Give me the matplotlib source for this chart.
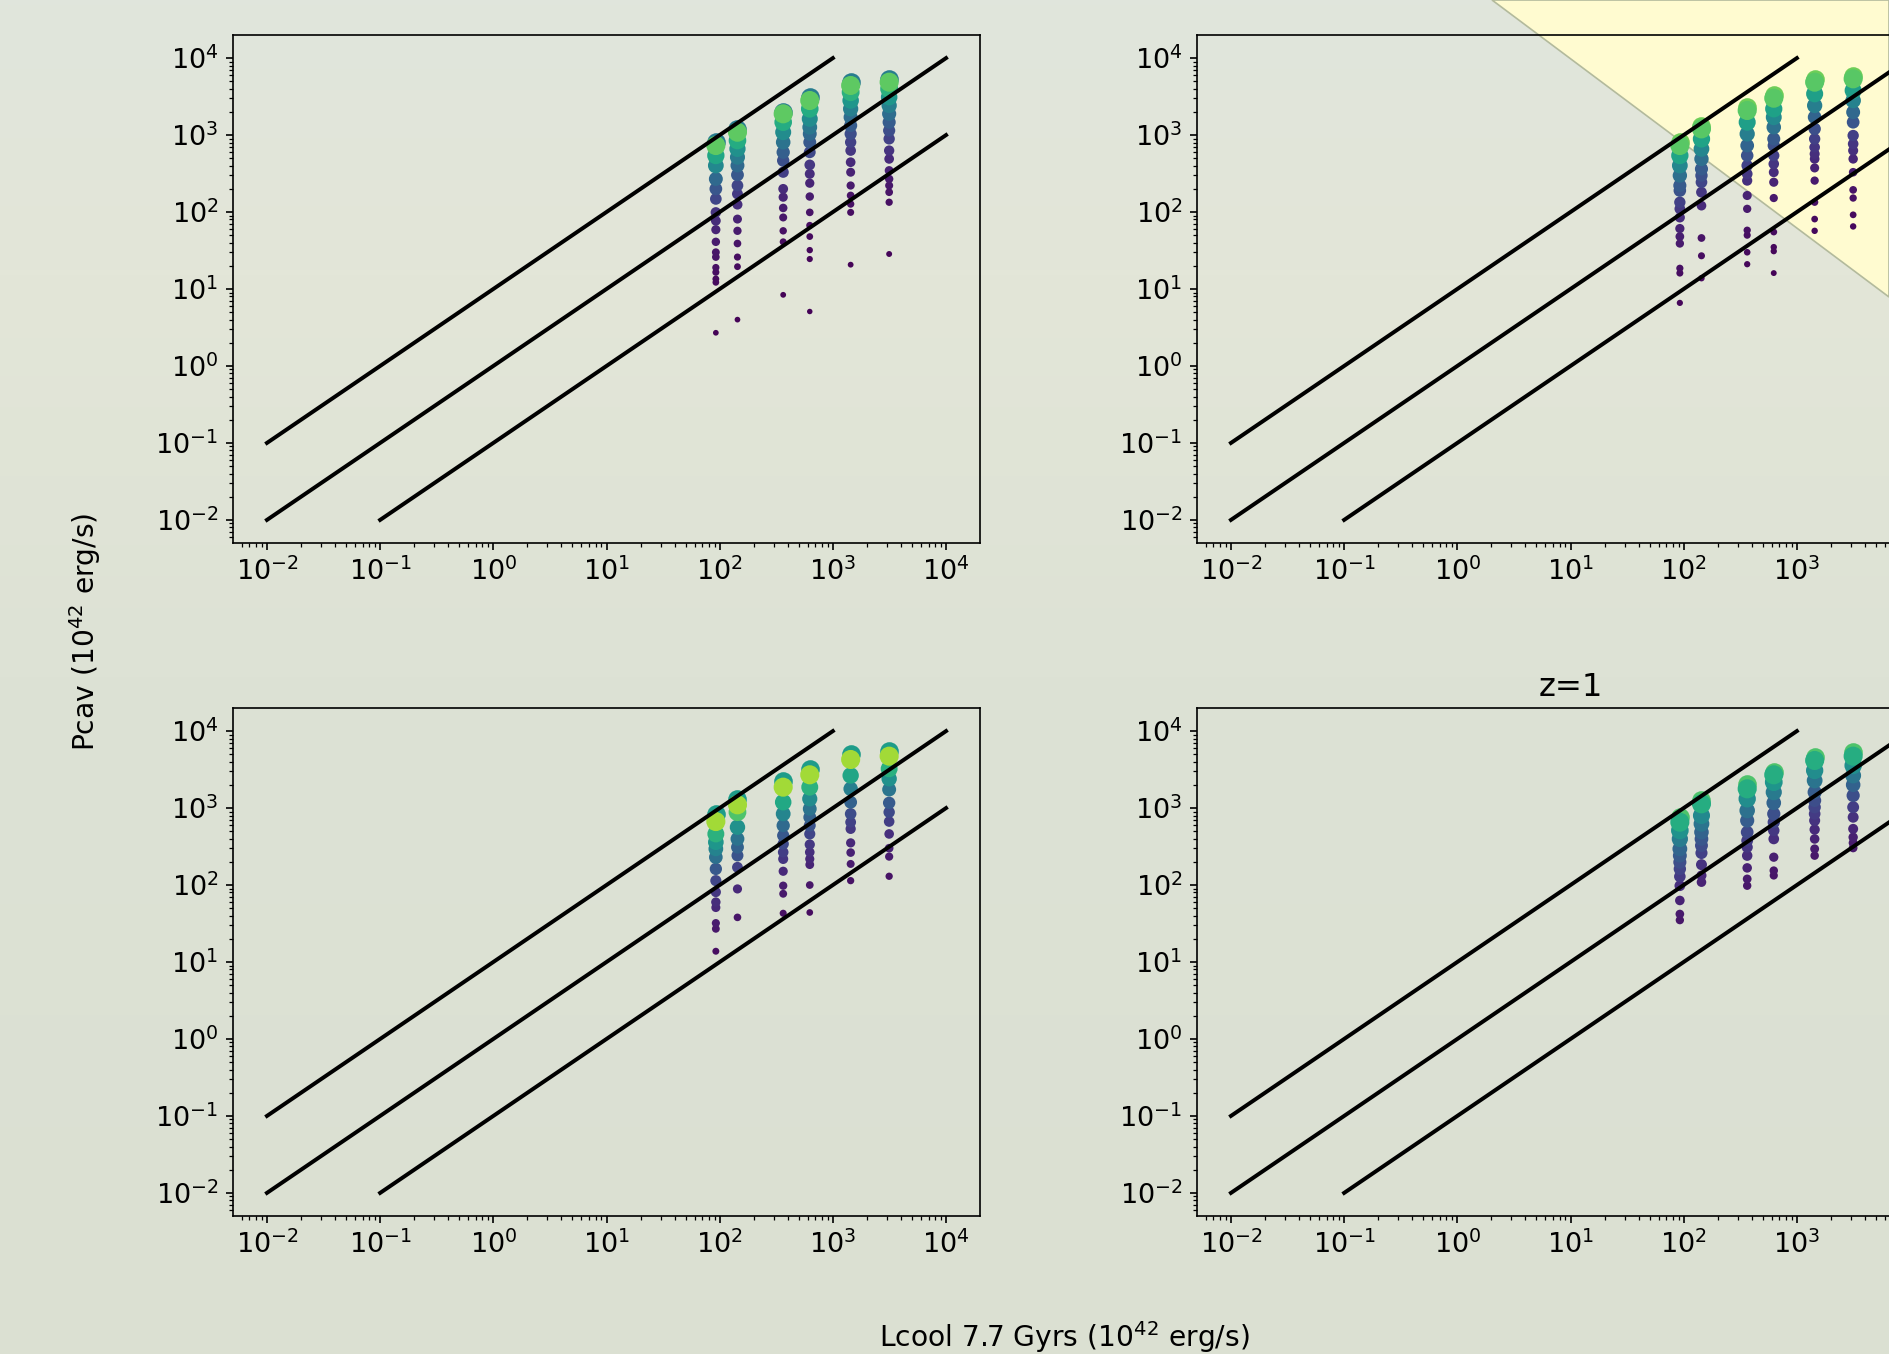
import numpy as np
import matplotlib
matplotlib.use("Agg")
import matplotlib.pyplot as plt
from matplotlib.patches import Polygon
from matplotlib.colors import LinearSegmentedColormap

# ---------------- data ----------------
lcool = [92.5, 143.6, 364, 625, 1436, 3143]   # Lcool (1e42 erg/s), one column per cluster

# Pcav values per column (first entry = top "cap" point)
pcav_tl = [
    [809, 731, 542, 402, 269, 200, 148, 99, 77, 59, 41, 30, 26, 19, 16.5, 13.5, 12.2, 2.7],
    [1200, 1089, 849, 662, 516, 402, 304, 221, 172, 125, 81, 57, 39, 26, 19.5, 4.0],
    [2023, 1888, 1469, 1089, 807, 598, 466, 329, 200, 156, 113, 85, 57, 41, 8.4],
    [3105, 2811, 2191, 1624, 1265, 1037, 807, 598, 410, 313, 237, 159, 99, 67, 48, 32, 24.5, 5.1],
    [4866, 4406, 3607, 2811, 2191, 1706, 1330, 1037, 807, 629, 444, 329, 221, 164, 127, 99, 20.7],
    [5378, 4866, 3990, 3105, 2421, 1888, 1469, 1145, 893, 629, 490, 346, 269, 221, 181, 134, 28.5],
]
pcav_tr = [
    [807, 731, 542, 402, 298, 221, 190, 134, 110, 85, 61, 48, 39, 18.6, 16.1, 6.6],
    [1330, 1203, 891, 661, 490, 363, 298, 244, 181, 121, 46, 27, 13.8],
    [2300, 2086, 1469, 1035, 731, 542, 402, 313, 256, 164, 110, 58, 50, 30, 21],
    [3300, 3011, 2191, 1706, 1265, 891, 731, 542, 422, 329, 244, 152, 55, 35, 31, 16.1],
    [5300, 4866, 3434, 2421, 1706, 1203, 891, 695, 569, 490, 374, 256, 134, 81, 57],
    [5800, 5378, 3793, 2811, 1982, 1469, 986, 768, 629, 490, 329, 194, 152, 92, 65],
]
pcav_bl = [
    [841, 668, 461, 360, 295, 230, 162, 114, 81, 60, 51, 32, 27, 13.8],
    [1318, 1102, 884, 564, 398, 310, 242, 170, 89, 38],
    [2280, 1868, 1191, 841, 593, 440, 342, 267, 218, 151, 98, 77, 43],
    [3236, 2704, 1868, 1318, 977, 760, 593, 461, 336, 267, 218, 184, 100, 44],
    [5070, 4276, 2649, 1778, 1191, 841, 655, 537, 353, 264, 188, 114],
    [5433, 4723, 3236, 2399, 1742, 1169, 884, 668, 461, 301, 234, 130],
]
pcav_br = [
    [760, 655, 511, 397, 295, 241, 198, 162, 129, 98, 63, 42, 35],
    [1254, 1135, 800, 624, 486, 397, 326, 261, 184, 133, 109],
    [2066, 1778, 1318, 929, 689, 486, 378, 310, 241, 167, 120, 98],
    [2985, 2704, 2170, 1607, 1169, 841, 655, 511, 397, 230, 154, 133],
    [4585, 4150, 3076, 2280, 1607, 1254, 1026, 841, 689, 526, 397, 295, 241],
    [5321, 4723, 3573, 2649, 2004, 1456, 1026, 760, 537, 418, 353, 303],
]

# reference lines: Pcav = 10 Lcool, Lcool, 0.1 Lcool
line_x = [[1e-2, 1e3], [1e-2, 1e4], [1e-1, 1e4]]
line_y = [[1e-1, 1e4], [1e-2, 1e4], [1e-2, 1e3]]

panel_title = ["", "", "", "z=1"]
# colour of brightest point and of top "cap" point in each panel (viridis fraction)
top_c = [0.75, 0.74, 0.86, 0.62]
cap_c = [0.42, 0.78, 0.55, 0.72]

# ---------------- figure ----------------
W, H, DPI = 1889, 1354, 150
fig = plt.figure(figsize=(W / DPI, H / DPI), dpi=DPI)

# background gradient
bg = fig.add_axes([0, 0, 1, 1], zorder=-10)
bg.set_axis_off()
grad_cmap = LinearSegmentedColormap.from_list(
    "bg", [(0.0, "#e0e5dc"), (0.2, "#e3e6d8"), (0.5, "#dde2d5"), (1.0, "#dbe0d2")])
bg.imshow(np.linspace(0, 1, 256)[:, None], aspect="auto", cmap=grad_cmap,
          extent=[0, 1, 0, 1], origin="upper")
bg.add_patch(Polygon([[1492 / W, 1.0], [1.0, 1.0], [1.0, 1 - 297 / H]], closed=True,
                     facecolor="#fffbd0", edgecolor="#b3ba9c", linewidth=0.8,
                     transform=bg.transAxes))
bg.set_xlim(0, 1)
bg.set_ylim(0, 1)

axw, axh = 747 / W, 508 / H
positions = [
    [233 / W, 1 - 543 / H, axw, axh],
    [1197 / W, 1 - 543 / H, axw, axh],
    [233 / W, 1 - 1216 / H, axw, axh],
    [1197 / W, 1 - 1216 / H, axw, axh],
]
panels = [pcav_tl, pcav_tr, pcav_bl, pcav_br]
cmap = plt.get_cmap("viridis")

for i, (pos, cols) in enumerate(zip(positions, panels)):
    ax = fig.add_axes(pos)
    ax.set_facecolor("none")
    ax.set_xscale("log")
    ax.set_yscale("log")
    for x, ys in zip(lcool, cols):
        ys = np.asarray(ys, float)
        cap, rest = ys[0], ys[1:]
        ratio = rest / rest[0]
        cvals = top_c[i] * ratio ** 0.8
        sizes = 6 + 78 * ratio ** 0.7
        order = np.argsort(rest)
        ax.scatter([x], [cap], s=80, color=cmap(cap_c[i]), linewidths=0, zorder=2)
        ax.scatter(np.full(len(rest), x), rest[order], s=sizes[order],
                   color=cmap(cvals[order]), linewidths=0, zorder=2)
    for lx, ly in zip(line_x, line_y):
        ax.plot(lx, ly, color="black", lw=1.9, zorder=3)
    ax.set_xlim(10 ** -2.3, 10 ** 4.3)
    ax.set_ylim(10 ** -2.3, 10 ** 4.3)
    ax.tick_params(labelsize=13)
    if panel_title[i]:
        ax.set_title(panel_title[i], fontsize=15.5)

fig.text(85 / W, 1 - 632 / H, "Pcav ($10^{42}$ erg/s)", rotation=90,
         ha="center", va="center", fontsize=13.5)
fig.text(1064 / W, 1 - 1337 / H, "Lcool 7.7 Gyrs ($10^{42}$ erg/s)",
         ha="center", va="center", fontsize=13.5)

fig.savefig("out.png", dpi=DPI)
